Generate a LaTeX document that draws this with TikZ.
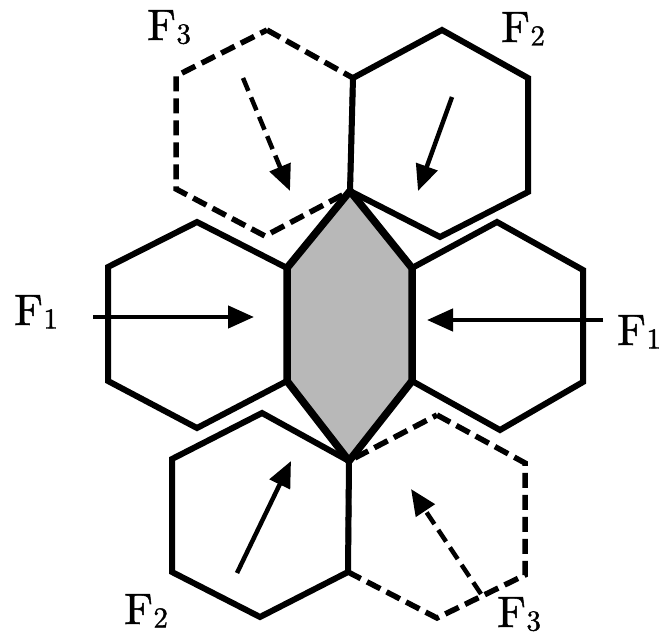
\documentclass[tikz,border=0pt]{standalone}
\usepackage{fontspec}
\newfontfamily\labfont{lmroman10-regular}[Extension=.otf, FakeBold=1.2]
\usetikzlibrary{arrows.meta}
\newcommand{\Flab}[1]{F\kern0.5pt\raisebox{-3.5pt}{\fontsize{29}{29}\selectfont #1}}
\begin{document}
\begin{tikzpicture}[x=1pt,y=-1pt,
  hexsolid/.style={line width=6pt, line join=miter},
  hexdash/.style={line width=5.5pt, dash pattern=on 15pt off 7pt},
  centre/.style={line width=7.5pt, fill=black!28, line join=miter},
  force/.style={line width=4.5pt, -{Triangle[length=26pt,width=22pt]}},
  forcedash/.style={force, dash pattern=on 14pt off 7pt},
  lab/.style={anchor=base west, inner sep=0pt, font=\labfont\fontsize{44}{48}\selectfont}]
\fill[white] (0,0) rectangle (666,636);
\useasboundingbox (0,0) rectangle (666,636);

% shared vertices
\coordinate (ct) at (350,191);
\coordinate (cb) at (349,461);
\coordinate (cul) at (287,268);
\coordinate (cll) at (287,381);
\coordinate (cur) at (412,268);
\coordinate (clr) at (412,381);

% dashed hexagons (F3)
\draw[hexdash] (267,30) -- (353,78) -- (ct) -- (265,236) -- (176,189) -- (176,76) -- cycle;
\draw[hexdash] (437,415) -- (525,463) -- (525,575) -- (437,618) -- (348,572) -- (cb) -- cycle;

% solid hexagons
\draw[hexsolid] (442,30) -- (528,78) -- (528,192) -- (440,237) -- (ct) -- (353,78) -- cycle;
\draw[hexsolid] (197,222) -- (cul) -- (cll) -- (197,428) -- (108,381) -- (108,267) -- cycle;
\draw[hexsolid] (497,222) -- (583,270) -- (583,382) -- (500,430) -- (clr) -- (cur) -- cycle;
\draw[hexsolid] (262,413) -- (cb) -- (348,572) -- (260,617) -- (172,572) -- (172,459) -- cycle;

% central hexagon
\draw[centre] (ct) -- (cur) -- (clr) -- (cb) -- (cll) -- (cul) -- cycle;

% forces
\coordinate (a1s) at (243,78);  \coordinate (a1e) at (290,191);
\coordinate (a2s) at (452,97);  \coordinate (a2e) at (418,191);
\coordinate (a3s) at (93,317);  \coordinate (a3e) at (254,317);
\coordinate (a4s) at (603,320); \coordinate (a4e) at (427,320);
\coordinate (a5s) at (237,573); \coordinate (a5e) at (291,461);
\coordinate (a6s) at (481,594); \coordinate (a6e) at (411,489);
\draw[forcedash] (a1s) -- (a1e);
\draw[force] (a2s) -- (a2e);
\draw[force] (a3s) -- (a3e);
\draw[force] (a4s) -- (a4e);
\draw[force] (a5s) -- (a5e);
\draw[forcedash] (a6s) -- (a6e);

% labels
\node[lab] (l3t) at (147,40) {\Flab{3}};
\node[lab] (l2t) at (501,42) {\Flab{2}};
\node[lab] (l1l) at (14,325) {\Flab{1}};
\node[lab] (l1r) at (617,345) {\Flab{1}};
\node[lab] (l2b) at (124,624) {\Flab{2}};
\node[lab] (l3b) at (497,627) {\Flab{3}};
\end{tikzpicture}
\end{document}
